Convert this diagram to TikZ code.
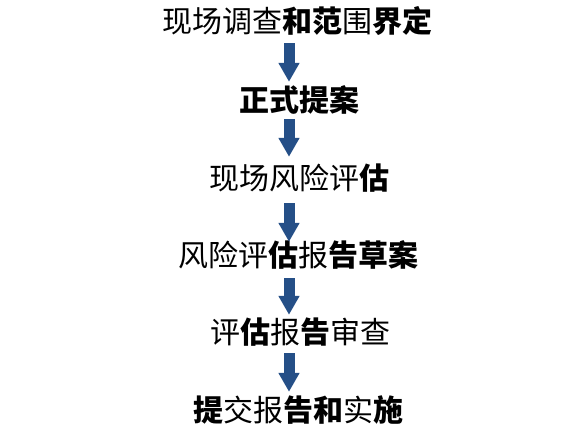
\documentclass[tikz,border=0pt]{standalone}
\usepackage{fontspec}
\newfontfamily\cjk{Noto Sans CJK SC}
\usetikzlibrary{arrows.meta}
\definecolor{arrowblue}{RGB}{37,79,135}
\newcommand\hb[1]{{\bfseries #1}}

\begin{document}
\begin{tikzpicture}[x=1pt,y=-1pt,
                flow/.style={draw=arrowblue,line width=11pt,-{Triangle[width=20pt,length=19pt]}},
                stage/.style={font=\cjk\fontsize{30}{30}\selectfont,inner sep=0pt,
                              text height=25pt,text depth=2pt}]
  \useasboundingbox (0,0) rectangle (568,435);

  \node[stage] (1) at (297,21)    {现场调查\hb{和范}围\hb{界定}};
  \node[stage] (2) at (299,100)   {\hb{正式提案}};
  \node[stage] (3) at (299,178)   {现场风险评\hb{估}};
  \node[stage] (4) at (298,255.5) {风险评\hb{估}报\hb{告草案}};
  \node[stage] (5) at (300,332.5) {评\hb{估}报\hb{告}审查};
  \node[stage] (6) at (298,410.5) {\hb{提}交报\hb{告和}实\hb{施}};

  \draw[flow,shorten <=8.5pt,shorten >=4.5pt] ([xshift=-8pt]1.south) -- ([xshift=-10pt]2.north);
  \draw[flow,shorten <=5.5pt,shorten >=7.5pt] ([xshift=-10pt]2.south) -- ([xshift=-10pt]3.north);
  \draw[flow,shorten <=11.5pt,shorten >=0pt]  ([xshift=-10pt]3.south) -- ([xshift=-9pt]4.north);
  \draw[flow,shorten <=9pt,shorten >=4pt]     ([xshift=-9pt]4.south)  -- ([xshift=-11pt]5.north);
  \draw[flow,shorten <=7pt,shorten >=5pt]     ([xshift=-11pt]5.south) -- ([xshift=-9pt]6.north);
\end{tikzpicture}
\end{document}
